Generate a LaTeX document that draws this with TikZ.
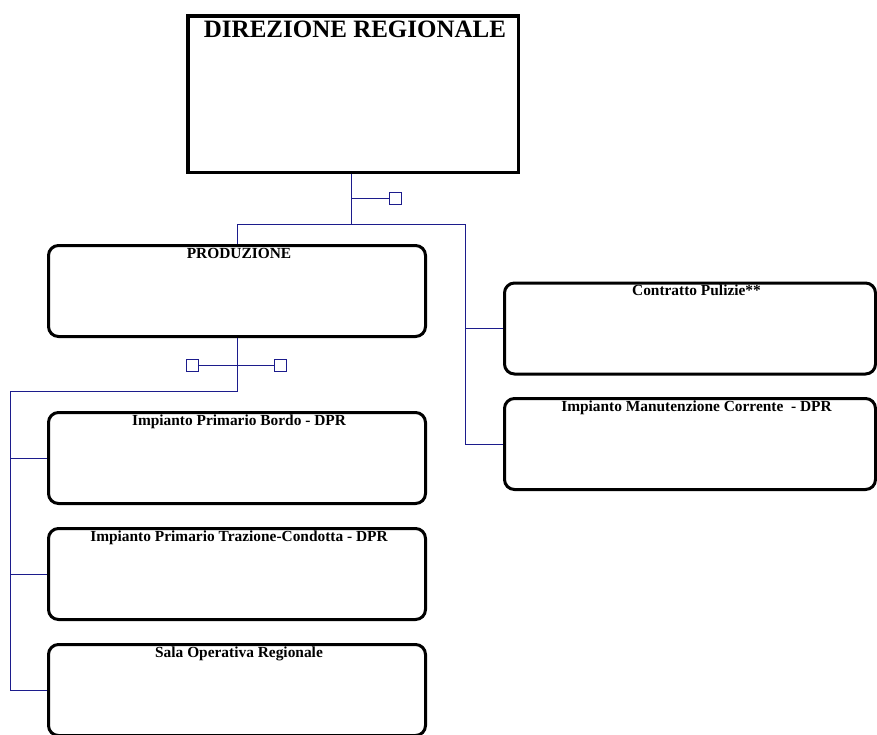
\documentclass[tikz,border=0pt]{standalone}
\usepackage{fontspec}
\setmainfont{Liberation Serif}
\definecolor{linkblue}{RGB}{28,28,140}
\begin{document}
\begin{tikzpicture}[x=1pt,y=-1pt,
  orgbox/.style={draw=black,line width=3pt,rounded corners=10pt,inner sep=0pt,
    minimum width=377pt,minimum height=91pt},
  rightbox/.style={orgbox,minimum width=371pt},
  boxtitle/.style={anchor=base,label distance=0pt,yshift=-14pt,xshift=2pt,
    font=\bfseries\fontsize{15.4}{18}\selectfont,inner sep=0pt},
  link/.style={draw=linkblue,line width=1pt},
  handle/.style={draw=linkblue,line width=1pt,fill=white,inner sep=0pt,minimum size=12pt}]
\useasboundingbox (0,0) rectangle (877,734);
% top box
\node[draw=black,line width=3.5pt,inner sep=0pt,minimum width=330.5pt,minimum height=156.5pt,
  label={[anchor=base,label distance=0pt,yshift=-23.5pt,xshift=2pt,inner sep=0pt,
    font=\bfseries\fontsize{25}{28}\selectfont]north:DIREZIONE REGIONALE}] (dir) at (353,94) {};
% second level
\node[orgbox,label={[boxtitle]north:PRODUZIONE}] (prod) at (237,291) {};
\node[rightbox,label={[boxtitle,xshift=4.5pt]north:Contratto Pulizie**}] (pul) at (690,328.5) {};
\node[rightbox,label={[boxtitle,xshift=4.5pt]north:Impianto Manutenzione Corrente\ \ - DPR}] (man) at (690,444) {};
% third level
\node[orgbox,label={[boxtitle]north:Impianto Primario Bordo - DPR}] (bordo) at (237,458) {};
\node[orgbox,label={[boxtitle]north:Impianto Primario Trazione-Condotta - DPR}] (traz) at (237,574) {};
\node[orgbox,label={[boxtitle]north:Sala Operativa Regionale}] (sala) at (237,690) {};
% handles
\node[handle] (h1) at (395,198.3) {};
\node[handle] (h2) at (192.3,365) {};
\node[handle] (h3) at (280.3,365) {};
% bus coordinates
\coordinate (b1) at (351.5,224);
\coordinate (bl) at (237,224);
\coordinate (br) at (465.7,224);
\coordinate (p1) at (237,391.7);
\coordinate (pl) at (10,391.7);
% connectors from top
\draw[link] (dir.south -| b1) -- (b1);
\draw[link] (h1.west -| b1) -- (h1.west);
\draw[link] (bl) -- (br);
\draw[link] (bl) -- (prod.north);
\draw[link] (br) -- (br |- man.west) -- (man.west);
\draw[link] (br |- pul.west) -- (pul.west);
% connectors from PRODUZIONE
\draw[link] (prod.south) -- (p1) -- (pl) -- (pl |- sala.west) -- (sala.west);
\draw[link] (pl |- bordo.west) -- (bordo.west);
\draw[link] (pl |- traz.west) -- (traz.west);
\draw[link] (h2.east) -- (h3.west);
\end{tikzpicture}
\end{document}
